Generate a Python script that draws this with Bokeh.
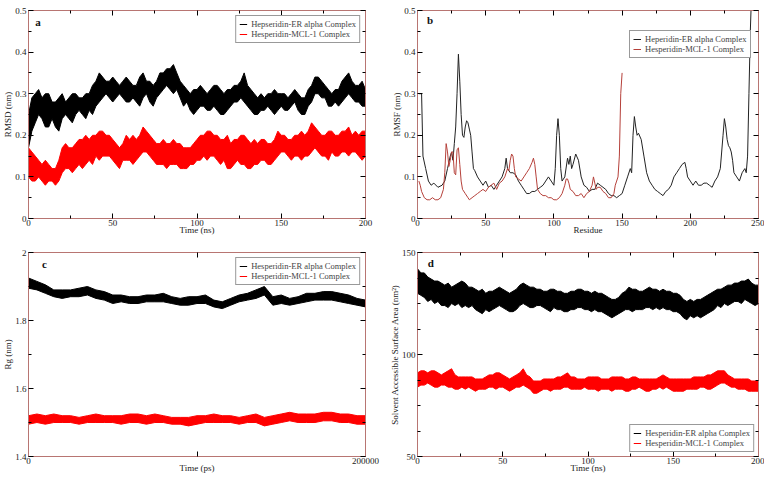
from bokeh.plotting import figure
from bokeh.layouts import gridplot
from bokeh.models import LinearAxis, FixedTicker, Legend, LegendItem, Label
from bokeh.embed import file_html
from bokeh.resources import INLINE

# ---------------- data ----------------
# Panel a: RMSD (nm) vs time (ns), envelopes of the noisy traces every 2 ns
t_ns = list(range(0, 201, 2))
rmsd_er_lo = [0.17, 0.21, 0.23, 0.25, 0.24, 0.22, 0.22, 0.24, 0.22, 0.21,
              0.24, 0.25, 0.24, 0.23, 0.25, 0.26, 0.25, 0.24, 0.26, 0.25,
              0.27, 0.28, 0.29, 0.30, 0.29, 0.28, 0.29, 0.30, 0.29, 0.28,
              0.28, 0.29, 0.28, 0.27, 0.29, 0.30, 0.28, 0.27, 0.29, 0.30,
              0.31, 0.32, 0.31, 0.30, 0.31, 0.29, 0.27, 0.28, 0.26, 0.25,
              0.26, 0.27, 0.27, 0.26, 0.26, 0.27, 0.26, 0.25, 0.25, 0.26,
              0.27, 0.28, 0.28, 0.29, 0.28, 0.27, 0.26, 0.25, 0.25, 0.26,
              0.26, 0.27, 0.26, 0.25, 0.26, 0.27, 0.26, 0.26, 0.27, 0.28,
              0.26, 0.25, 0.25, 0.27, 0.28, 0.30, 0.30, 0.29, 0.29, 0.27,
              0.27, 0.28, 0.27, 0.28, 0.29, 0.30, 0.29, 0.28, 0.28, 0.27,
              0.27]
rmsd_er_hi = [0.25, 0.29, 0.30, 0.31, 0.29, 0.30, 0.30, 0.28, 0.28, 0.29,
              0.30, 0.28, 0.29, 0.30, 0.30, 0.29, 0.29, 0.30, 0.30, 0.32,
              0.33, 0.35, 0.34, 0.33, 0.33, 0.34, 0.33, 0.32, 0.33, 0.34,
              0.33, 0.32, 0.32, 0.34, 0.35, 0.33, 0.33, 0.32, 0.33, 0.35,
              0.35, 0.36, 0.36, 0.37, 0.35, 0.33, 0.32, 0.31, 0.30, 0.31,
              0.31, 0.32, 0.31, 0.30, 0.31, 0.32, 0.32, 0.31, 0.30, 0.31,
              0.31, 0.32, 0.32, 0.33, 0.35, 0.32, 0.31, 0.30, 0.29, 0.30,
              0.29, 0.30, 0.30, 0.31, 0.30, 0.30, 0.30, 0.29, 0.30, 0.31,
              0.30, 0.29, 0.29, 0.31, 0.32, 0.34, 0.34, 0.33, 0.32, 0.31,
              0.30, 0.31, 0.31, 0.33, 0.34, 0.35, 0.33, 0.32, 0.32, 0.33,
              0.31]
rmsd_mcl_lo = [0.10, 0.09, 0.09, 0.10, 0.09, 0.08, 0.09, 0.09, 0.08, 0.09,
               0.11, 0.12, 0.12, 0.11, 0.12, 0.13, 0.12, 0.13, 0.14, 0.13,
               0.15, 0.14, 0.15, 0.15, 0.15, 0.14, 0.13, 0.12, 0.14, 0.14,
               0.14, 0.13, 0.14, 0.15, 0.16, 0.16, 0.15, 0.14, 0.13, 0.13,
               0.13, 0.12, 0.13, 0.13, 0.13, 0.12, 0.12, 0.12, 0.13, 0.13,
               0.14, 0.14, 0.15, 0.14, 0.15, 0.15, 0.14, 0.13, 0.14, 0.12,
               0.12, 0.13, 0.14, 0.13, 0.13, 0.12, 0.12, 0.13, 0.13, 0.14,
               0.14, 0.13, 0.13, 0.14, 0.15, 0.16, 0.16, 0.15, 0.14, 0.15,
               0.15, 0.14, 0.15, 0.15, 0.16, 0.17, 0.16, 0.15, 0.15, 0.14,
               0.16, 0.15, 0.15, 0.16, 0.16, 0.15, 0.16, 0.16, 0.15, 0.14,
               0.15]
rmsd_mcl_hi = [0.17, 0.16, 0.15, 0.14, 0.13, 0.14, 0.13, 0.12, 0.12, 0.14,
               0.17, 0.18, 0.17, 0.17, 0.18, 0.19, 0.19, 0.20, 0.19, 0.20,
               0.20, 0.21, 0.21, 0.20, 0.20, 0.19, 0.18, 0.17, 0.18, 0.20,
               0.19, 0.20, 0.19, 0.20, 0.22, 0.21, 0.20, 0.19, 0.18, 0.18,
               0.19, 0.18, 0.18, 0.19, 0.18, 0.18, 0.17, 0.17, 0.17, 0.18,
               0.19, 0.20, 0.20, 0.21, 0.21, 0.20, 0.20, 0.19, 0.19, 0.20,
               0.18, 0.19, 0.19, 0.20, 0.20, 0.19, 0.18, 0.19, 0.18, 0.19,
               0.19, 0.18, 0.18, 0.19, 0.21, 0.20, 0.20, 0.19, 0.19, 0.20,
               0.20, 0.21, 0.20, 0.21, 0.23, 0.22, 0.21, 0.20, 0.20, 0.21,
               0.21, 0.20, 0.20, 0.21, 0.21, 0.22, 0.20, 0.21, 0.20, 0.21,
               0.21]

# Panel b: RMSF (nm) vs residue
res_er = [1, 3, 4, 6, 8, 10, 12, 15, 18, 20, 22, 24, 25, 26, 27, 28, 29, 30, 31, 32, 33, 34, 35, 36, 37, 38,
          39, 40, 41, 42, 44, 46, 48, 50, 52, 54, 56, 58, 60, 62, 64, 65, 66, 68, 70, 72, 74, 76, 78, 80, 82,
          84, 86, 88, 90, 92, 94, 96, 98, 100, 101, 102, 103, 104, 105, 106, 108, 110, 111, 112, 113, 114, 116,
          118, 120, 122, 124, 126, 128, 130, 132, 134, 136, 138, 140, 142, 144, 146, 148, 150, 152, 154, 156,
          157, 158, 159, 160, 161, 162, 164, 166, 168, 170, 172, 174, 176, 178, 180, 182, 184, 186, 188, 190,
          192, 194, 196, 197, 198, 200, 202, 204, 206, 208, 210, 212, 214, 216, 218, 220, 222, 224, 225, 226,
          227, 228, 229, 230, 231, 232, 234, 236, 238, 240, 241, 242, 243, 244, 245]
rmsf_er = [0.30, 0.30, 0.15, 0.12, 0.09, 0.08, 0.085, 0.075, 0.08, 0.09, 0.12, 0.15, 0.16, 0.14, 0.18, 0.22,
           0.30, 0.395, 0.33, 0.25, 0.20, 0.195, 0.22, 0.235, 0.23, 0.215, 0.20, 0.16, 0.12, 0.115, 0.10, 0.09,
           0.08, 0.09, 0.075, 0.08, 0.07, 0.08, 0.09, 0.10, 0.12, 0.145, 0.12, 0.11, 0.11, 0.105, 0.09, 0.08,
           0.07, 0.06, 0.06, 0.065, 0.065, 0.07, 0.075, 0.08, 0.09, 0.10, 0.09, 0.08, 0.12, 0.20, 0.24, 0.20,
           0.12, 0.09, 0.10, 0.145, 0.13, 0.15, 0.12, 0.13, 0.155, 0.14, 0.10, 0.08, 0.075, 0.065, 0.07, 0.07,
           0.085, 0.08, 0.075, 0.07, 0.06, 0.055, 0.055, 0.05, 0.055, 0.06, 0.08, 0.10, 0.12, 0.11, 0.20, 0.245,
           0.22, 0.20, 0.205, 0.19, 0.15, 0.11, 0.09, 0.08, 0.07, 0.065, 0.06, 0.055, 0.065, 0.07, 0.08, 0.10,
           0.11, 0.12, 0.13, 0.135, 0.12, 0.10, 0.09, 0.08, 0.09, 0.08, 0.08, 0.085, 0.085, 0.08, 0.075, 0.09,
           0.10, 0.12, 0.20, 0.24, 0.22, 0.19, 0.175, 0.17, 0.16, 0.14, 0.11, 0.10, 0.09, 0.11, 0.12, 0.11,
           0.15, 0.30, 0.45, 0.55]
res_mcl = [1, 2, 3, 5, 7, 9, 11, 13, 15, 17, 19, 20, 21, 22, 23, 24, 25, 26, 27, 28, 29, 30, 31, 32, 33, 35,
           37, 38, 40, 42, 44, 46, 48, 50, 52, 54, 56, 58, 60, 62, 64, 66, 67, 68, 69, 70, 71, 72, 74, 76, 78,
           80, 82, 84, 85, 86, 87, 88, 90, 92, 94, 96, 98, 100, 102, 104, 106, 108, 109, 110, 111, 112, 114,
           116, 118, 120, 122, 124, 126, 128, 129, 130, 131, 132, 134, 136, 138, 140, 142, 144, 145, 146, 147,
           148, 149, 150]
rmsf_mcl = [0.09, 0.08, 0.065, 0.05, 0.045, 0.045, 0.05, 0.045, 0.045, 0.05, 0.07, 0.11, 0.18, 0.16, 0.125,
            0.14, 0.16, 0.16, 0.11, 0.105, 0.165, 0.17, 0.13, 0.09, 0.07, 0.06, 0.05, 0.045, 0.05, 0.055, 0.06,
            0.065, 0.07, 0.065, 0.075, 0.08, 0.085, 0.07, 0.085, 0.09, 0.10, 0.12, 0.115, 0.14, 0.155, 0.15,
            0.12, 0.10, 0.095, 0.09, 0.10, 0.11, 0.12, 0.135, 0.145, 0.13, 0.10, 0.07, 0.06, 0.055, 0.055, 0.05,
            0.05, 0.045, 0.045, 0.05, 0.06, 0.08, 0.095, 0.095, 0.085, 0.07, 0.065, 0.055, 0.055, 0.06, 0.05,
            0.06, 0.065, 0.08, 0.10, 0.085, 0.07, 0.075, 0.075, 0.065, 0.06, 0.05, 0.05, 0.06, 0.08, 0.09, 0.10,
            0.15, 0.30, 0.35]

# Panel c: Rg (nm) vs time (ps), envelopes every 5000 ps
t_ps = list(range(0, 200001, 5000))
rg_er_lo = [1.895, 1.89, 1.88, 1.87, 1.865, 1.87, 1.87, 1.875, 1.865, 1.86, 1.85, 1.855, 1.85, 1.85, 1.855,
            1.855, 1.855, 1.85, 1.845, 1.845, 1.85, 1.85, 1.84, 1.835, 1.845, 1.855, 1.86, 1.865, 1.875, 1.845,
            1.85, 1.845, 1.85, 1.855, 1.86, 1.86, 1.86, 1.855, 1.85, 1.845, 1.84]
rg_er_hi = [1.925, 1.915, 1.905, 1.89, 1.89, 1.89, 1.895, 1.90, 1.89, 1.885, 1.875, 1.875, 1.87, 1.87, 1.875,
            1.875, 1.88, 1.87, 1.865, 1.87, 1.87, 1.875, 1.86, 1.855, 1.865, 1.875, 1.88, 1.89, 1.90, 1.87,
            1.875, 1.865, 1.87, 1.88, 1.88, 1.885, 1.885, 1.88, 1.875, 1.865, 1.86]
rg_mcl_lo = [1.495, 1.50, 1.495, 1.50, 1.50, 1.50, 1.495, 1.50, 1.50, 1.50, 1.50, 1.495, 1.50, 1.50, 1.495,
             1.50, 1.50, 1.495, 1.495, 1.49, 1.495, 1.50, 1.50, 1.50, 1.50, 1.495, 1.50, 1.50, 1.49, 1.495,
             1.50, 1.505, 1.50, 1.50, 1.50, 1.505, 1.505, 1.50, 1.50, 1.495, 1.495]
rg_mcl_hi = [1.52, 1.525, 1.52, 1.525, 1.52, 1.52, 1.515, 1.52, 1.525, 1.52, 1.52, 1.52, 1.525, 1.525, 1.52,
             1.525, 1.52, 1.515, 1.515, 1.515, 1.52, 1.52, 1.525, 1.52, 1.52, 1.515, 1.52, 1.525, 1.515, 1.52,
             1.525, 1.53, 1.525, 1.525, 1.525, 1.53, 1.53, 1.525, 1.525, 1.52, 1.52]

# Panel d: SASA (nm^2) vs time (ns), envelopes every 2 ns
sasa_er_lo = [130, 129, 128, 126, 127, 125, 126, 124, 124, 123,
              125, 124, 125, 123, 124, 123, 124, 122, 121, 120,
              122, 121, 122, 123, 124, 123, 122, 121, 121, 122,
              124, 125, 124, 123, 123, 124, 124, 123, 122, 121,
              123, 122, 122, 121, 121, 122, 122, 123, 123, 122,
              122, 121, 122, 121, 121, 120, 119, 118, 119, 120,
              121, 122, 122, 121, 122, 122, 122, 123, 123, 122,
              123, 122, 123, 122, 122, 121, 121, 120, 118, 117,
              119, 118, 119, 118, 119, 120, 121, 122, 124, 123,
              125, 124, 125, 126, 126, 125, 127, 126, 125, 124,
              125]
sasa_er_hi = [142, 140, 140, 138, 137, 136, 136, 135, 134, 135,
              133, 134, 135, 136, 135, 133, 133, 132, 131, 132,
              130, 131, 131, 132, 133, 132, 131, 130, 131, 132,
              134, 135, 134, 133, 133, 132, 132, 131, 131, 132,
              132, 131, 131, 130, 130, 131, 131, 132, 132, 131,
              131, 130, 131, 130, 130, 129, 128, 127, 127, 128,
              130, 131, 133, 132, 132, 131, 131, 132, 133, 132,
              132, 131, 132, 131, 131, 130, 130, 129, 127, 126,
              127, 126, 127, 127, 128, 129, 130, 131, 132, 132,
              133, 134, 134, 135, 135, 136, 136, 137, 135, 134,
              134]
sasa_mcl_lo = [84, 85, 85, 86, 85, 84, 84, 85, 85, 84,
               84, 83, 83, 84, 83, 84, 83, 82, 83, 83,
               83, 84, 84, 83, 84, 84, 83, 82, 83, 84,
               84, 85, 84, 83, 81, 81, 82, 83, 83, 82,
               83, 83, 83, 84, 84, 83, 83, 83, 83, 84,
               83, 83, 83, 82, 83, 83, 83, 82, 83, 83,
               83, 82, 82, 83, 83, 84, 83, 82, 82, 83,
               83, 84, 83, 84, 83, 82, 82, 82, 82, 83,
               83, 83, 83, 84, 84, 83, 83, 84, 85, 86,
               86, 85, 84, 84, 83, 83, 83, 82, 82, 82,
               82]
sasa_mcl_hi = [91, 92, 92, 91, 92, 92, 91, 90, 91, 92,
               93, 90, 89, 89, 89, 89, 89, 88, 88, 88,
               89, 90, 90, 91, 91, 90, 89, 88, 89, 90,
               91, 93, 90, 89, 87, 87, 87, 88, 88, 88,
               88, 89, 89, 90, 91, 89, 89, 88, 88, 88,
               89, 89, 89, 89, 88, 88, 88, 89, 89, 89,
               89, 88, 88, 89, 89, 88, 88, 88, 88, 88,
               88, 89, 90, 89, 88, 88, 88, 88, 88, 88,
               88, 89, 89, 89, 89, 90, 90, 91, 92, 92,
               92, 90, 89, 88, 88, 88, 88, 88, 87, 87,
               87]

# ---------------- style ----------------
FONT = "Liberation Serif"
FRAME = "#b87572"
BLACK = "#000000"
RED = "#ff0000"
RED_B = "#b5403a"


def make_fig(w, h, xr, yr, bl, br, bt, bb, xt, xminor, yt, yminor, xlabel, ylabel,
             xover=None, yover=None):
    p = figure(width=w, height=h, x_range=xr, y_range=yr, output_backend="svg",
               toolbar_location=None, min_border_left=bl, min_border_right=br,
               min_border_top=bt, min_border_bottom=bb)
    p.grid.visible = False
    p.outline_line_color = FRAME
    p.outline_line_width = 1
    p.background_fill_color = "white"
    p.border_fill_color = "white"
    for ax in (p.xaxis[0], p.yaxis[0]):
        ax.major_tick_in = 5
        ax.major_tick_out = 0
        ax.minor_tick_in = 3
        ax.minor_tick_out = 0
        ax.major_tick_line_color = BLACK
        ax.minor_tick_line_color = BLACK
        ax.axis_line_color = FRAME
        ax.major_label_text_font = FONT
        ax.major_label_text_font_size = "9px"
        ax.major_label_text_color = "#222222"
        ax.major_label_standoff = 2
        ax.axis_label_text_font = FONT
        ax.axis_label_text_font_size = "9px"
        ax.axis_label_text_font_style = "normal"
        ax.axis_label_text_color = "#222222"
    p.xaxis[0].major_label_standoff = 1
    p.xaxis[0].axis_label_standoff = -4
    p.yaxis[0].axis_label_standoff = -1
    p.xaxis[0].ticker = FixedTicker(ticks=xt, minor_ticks=xminor)
    p.yaxis[0].ticker = FixedTicker(ticks=yt, minor_ticks=yminor)
    p.xaxis[0].axis_label = xlabel
    p.yaxis[0].axis_label = ylabel
    if xover:
        p.xaxis[0].major_label_overrides = xover
    if yover:
        p.yaxis[0].major_label_overrides = yover
    # mirrored axes on top and right: ticks only, labels not drawn
    for side, tk, mn in (("above", xt, xminor), ("right", yt, yminor)):
        ax = LinearAxis(ticker=FixedTicker(ticks=tk, minor_ticks=mn),
                        major_label_text_font_size="1px", major_label_text_color=None,
                        major_label_standoff=0,
                        major_tick_in=5, major_tick_out=0, minor_tick_in=3, minor_tick_out=0,
                        major_tick_line_color=BLACK, minor_tick_line_color=BLACK,
                        axis_line_color=FRAME)
        p.add_layout(ax, side)
    return p


def band(p, x, lo, hi, color):
    p.varea(x=x, y1=lo, y2=hi, fill_color=color, fill_alpha=1.0)
    r1 = p.line(x, lo, line_color=color, line_width=1)
    p.line(x, hi, line_color=color, line_width=1)
    return r1


def add_legend(p, items, location, margin):
    leg = Legend(items=[LegendItem(label=l, renderers=[r]) for l, r in items],
                 location=location, margin=margin, padding=3, spacing=0,
                 label_text_font=FONT, label_text_font_size="8.5px", label_height=10,
                 glyph_height=10, glyph_width=8, label_standoff=4,
                 border_line_color="#333333", border_line_width=1,
                 background_fill_color="white", background_fill_alpha=1.0)
    p.add_layout(leg)


def letter(p, x, y, t):
    p.add_layout(Label(x=x, y=y, text=t, text_font=FONT, text_font_style="bold",
                       text_font_size="11px", text_baseline="middle", text_color="#111111"))


# ---------------- panel a ----------------
pa = make_fig(386, 237, (0, 200), (0, 0.5), 19, 19, 8, 18,
              [0, 50, 100, 150, 200], [25, 75, 125, 175],
              [0, 0.1, 0.2, 0.3, 0.4, 0.5], [0.05, 0.15, 0.25, 0.35, 0.45],
              "Time (ns)", "RMSD (nm)", yover={0: "0"})
ra1 = band(pa, t_ns, rmsd_er_lo, rmsd_er_hi, BLACK)
ra2 = band(pa, t_ns, rmsd_mcl_lo, rmsd_mcl_hi, RED)
add_legend(pa, [("Hepseridin-ER alpha Complex", ra1), ("Hesperidin-MCL-1 Complex", ra2)], "top_right", 5)
letter(pa, 4, 0.473, "a")

# ---------------- panel b ----------------
pb = make_fig(378, 237, (0, 250), (0, 0.5), 27, 6, 10, 18,
              [0, 50, 100, 150, 200, 250], [25, 75, 125, 175, 225],
              [0, 0.1, 0.2, 0.3, 0.4, 0.5], [0.05, 0.15, 0.25, 0.35, 0.45],
              "Residue", "RMSF (nm)", yover={0: "0"})
rb1 = pb.line(res_er, rmsf_er, line_color="#222222", line_width=1)
rb2 = pb.line(res_mcl, rmsf_mcl, line_color=RED_B, line_width=1)
add_legend(pb, [("Heperidin-ER alpha Complex", rb1), ("Hesperidin-MCL-1 Complex", rb2)], (212, 160), 0)
letter(pb, 7, 0.476, "b")

# ---------------- panel c ----------------
pc = make_fig(386, 238, (0, 200000), (1.4, 2.0), 19, 21, 14, 18,
              [0, 100000, 200000], [],
              [1.4, 1.6, 1.8, 2.0], [1.5, 1.7, 1.9],
              "Time (ps)", "Rg (nm)", xover={0: "0", 100000: "", 200000: "200000"}, yover={2: "2"})
rc1 = band(pc, t_ps, rg_er_lo, rg_er_hi, BLACK)
rc2 = band(pc, t_ps, rg_mcl_lo, rg_mcl_hi, RED)
add_legend(pc, [("Hesperidin-ER alpha Complex", rc1), ("Hesperidin-MCL-1 Complex", rc2)], "top_right", 5)
letter(pc, 8000, 1.965, "c")

# ---------------- panel d ----------------
pd_ = make_fig(378, 238, (0, 200), (50, 150), 27, 6, 15, 18,
               [0, 50, 100, 150, 200], [25, 75, 125, 175],
               [50, 100, 150], [62.5, 75, 87.5, 112.5, 125, 137.5],
               "Time (ns)", "Solvent Accessible Surface Area (nm²)")
rd1 = band(pd_, t_ns, sasa_er_lo, sasa_er_hi, BLACK)
rd2 = band(pd_, t_ns, sasa_mcl_lo, sasa_mcl_hi, RED)
add_legend(pd_, [("Hesperidin-ER alpha Complex", rd1), ("Hesperidin-MCL-1 Complex", rd2)], "bottom_right", 4)
letter(pd_, 6, 145, "d")

grid = gridplot([[pa, pb], [pc, pd_]], toolbar_location=None)

with open("out.html", "w") as f:
    f.write(file_html(grid, INLINE))
